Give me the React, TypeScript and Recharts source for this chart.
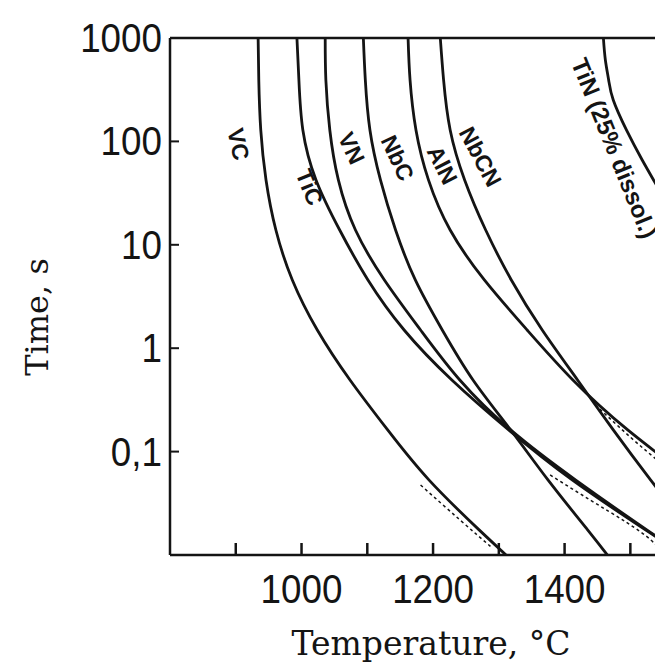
import React from "react";
import { LineChart, Line, XAxis, YAxis, ReferenceLine, ReferenceDot } from "recharts";

// axis ticks
const xTicks = [900, 1000, 1100, 1200, 1300, 1400, 1500, 1600];
const xLabelled = [1000, 1200, 1400];
const yTicks = [0.1, 1, 10, 100, 1000];
const yTickLabels = ["0,1", "1", "10", "100", "1000"];

const timeGrid = [1000, 393, 129, 42.4, 13.9, 4.57, 1.5, 0.49, 0.162, 0.053, 0.0175, 0.01];

// temperature (°C) of each curve at those times
const vcTemp = [934, 935, 938, 946, 961, 986, 1024, 1074, 1131, 1194, 1270, 1311];
const ticTemp = [993, 996, 1002, 1022, 1058, 1101, 1156, 1229, 1315, 1412, 1523, 1581];
const vnTemp = [1036, 1037, 1043, 1056, 1082, 1126, 1181, 1241, 1318, 1417, 1525, 1582];
const nbcTemp = [1094, 1097, 1104, 1120, 1143, 1173, 1214, 1261, 1318, 1375, 1435, 1465];
const alnTemp = [1162, 1165, 1174, 1193, 1226, 1278, 1343, 1413, 1496, 1595];
const nbcnTemp = [1211, 1216, 1226, 1248, 1280, 1319, 1366, 1420, 1474, 1531, 1590];

// TiN (25 % dissolved) only shows its top part
const tinTemp = [1459, 1462, 1467, 1474, 1494, 1518, 1544, 1570];
const tinTime = [1000, 613, 393, 251, 129, 66.1, 33.9, 17.4];

// dotted companion curves
const dotUpperTemp = [1447, 1500, 1550];
const dotUpperTime = [0.282, 0.138, 0.0742];
const dotLowerTemp = [1378, 1439, 1493, 1531, 1546];
const dotLowerTime = [0.0594, 0.034, 0.0209, 0.014, 0.0107];
const dotVcTemp = [1181, 1241, 1290];
const dotVcTime = [0.0475, 0.0218, 0.0117];

const curveNames = ["VC", "TiC", "VN", "NbC", "AlN", "NbCN", "TiN (25% dissol.)"];

const toRows = (temps: number[], times: number[]) =>
  temps.map((temp, i) => ({ temp, time: times[i] }));

const solid = [
  toRows(vcTemp, timeGrid),
  toRows(ticTemp, timeGrid),
  toRows(vnTemp, timeGrid),
  toRows(nbcTemp, timeGrid),
  toRows(alnTemp, timeGrid),
  toRows(nbcnTemp, timeGrid),
  toRows(tinTemp, tinTime),
];
const dotted = [
  toRows(dotUpperTemp, dotUpperTime),
  toRows(dotLowerTemp, dotLowerTime),
  toRows(dotVcTemp, dotVcTime),
];

// where each curve name is written and its slant
const namePlaces = [
  { temp: 904, time: 94, angle: 78 },
  { temp: 1012, time: 36, angle: 68 },
  { temp: 1076, time: 86, angle: 65 },
  { temp: 1146, time: 69, angle: 65 },
  { temp: 1214, time: 59, angle: 63 },
  { temp: 1272, time: 71, angle: 62 },
  { temp: 1476, time: 86, angle: 68 },
];

const ink = "#141414";
const digitFont = "'Liberation Sans', Arial, sans-serif";
const serif = "'DejaVu Serif', serif";

const XTick = (props: any) => {
  const { x, y, payload } = props;
  const v = payload.value;
  return (
    <g>
      <line x1={x} y1={y} x2={x} y2={y - 12} stroke={ink} strokeWidth={2.5} />
      {xLabelled.includes(v) && (
        <text
          transform={`translate(${x},${y + 48}) scale(0.92,1)`}
          textAnchor="middle"
          fontFamily={digitFont}
          fontSize={40}
          fill={ink}
        >
          {v}
        </text>
      )}
    </g>
  );
};

const YTick = (props: any) => {
  const { x, y, payload } = props;
  const i = yTicks.indexOf(payload.value);
  return (
    <g>
      {payload.value !== 1000 && (
        <line x1={x} y1={y} x2={x + 9} y2={y} stroke={ink} strokeWidth={2} />
      )}
      <text
        transform={`translate(${x - 8},${y + 14}) scale(0.92,1)`}
        textAnchor="end"
        fontFamily={digitFont}
        fontSize={40}
        fill={ink}
      >
        {i >= 0 ? yTickLabels[i] : ""}
      </text>
    </g>
  );
};

const nameLabel = (text: string, angle: number, size: number) => (p: any) => {
  const vb = p.viewBox || { x: 0, y: 0, width: 0, height: 0 };
  const cx = vb.x + vb.width / 2;
  const cy = vb.y + vb.height / 2;
  return (
    <text
      transform={`translate(${cx},${cy}) rotate(${angle})`}
      textAnchor="middle"
      dominantBaseline="central"
      fontFamily={digitFont}
      fontWeight="bold"
      fontSize={size}
      fill={ink}
    >
      {text}
    </text>
  );
};

export default function App() {
  return (
    <div style={{ width: 655, height: 657, overflow: "hidden", background: "#fff" }}>
      <style>{"body{overflow:hidden;background:#fff}"}</style>
      <LineChart width={731} height={657} margin={{ top: 30, right: 10, bottom: 0, left: 0 }}>
        <XAxis
          type="number"
          dataKey="temp"
          domain={[800, 1650]}
          allowDataOverflow
          ticks={xTicks}
          interval={0}
          tickSize={0}
          tickMargin={0}
          tickLine={false}
          tick={<XTick />}
          height={110}
          axisLine={{ stroke: ink, strokeWidth: 2.5 }}
          label={{
            content: () => (
              <text x={423} y={647} textAnchor="middle" fontFamily={serif} fontSize={33} fill={ink}>
                Temperature, °C
              </text>
            ),
          }}
        />
        <YAxis
          type="number"
          dataKey="time"
          scale="log"
          domain={[0.01, 1000]}
          allowDataOverflow
          ticks={yTicks}
          interval={0}
          tickSize={0}
          tickMargin={0}
          tickLine={false}
          tick={<YTick />}
          width={162}
          axisLine={{ stroke: ink, strokeWidth: 2.5 }}
          label={{
            content: () => (
              <text
                transform="translate(29,309) rotate(-90)"
                textAnchor="middle"
                dominantBaseline="central"
                fontFamily={serif}
                fontSize={32}
                fill={ink}
              >
                Time, s
              </text>
            ),
          }}
        />
        <ReferenceLine y={1000} stroke={ink} strokeWidth={2.5} />
        {solid.map((rows, i) => (
          <Line
            key={curveNames[i]}
            data={rows}
            dataKey="time"
            type="natural"
            stroke={ink}
            strokeWidth={2.8}
            dot={false}
            isAnimationActive={false}
          />
        ))}
        {dotted.map((rows, i) => (
          <Line
            key={"dot" + i}
            data={rows}
            dataKey="time"
            type="natural"
            stroke={ink}
            strokeWidth={1.5}
            strokeDasharray="3 3"
            dot={false}
            isAnimationActive={false}
          />
        ))}
        {namePlaces.map((p, i) => (
          <ReferenceDot
            key={"name" + i}
            x={p.temp}
            y={p.time}
            r={1}
            fill="none"
            stroke="none"
            ifOverflow="visible"
            label={{ content: nameLabel(curveNames[i], p.angle, i === 6 ? 24 : 23) }}
          />
        ))}
      </LineChart>
    </div>
  );
}
